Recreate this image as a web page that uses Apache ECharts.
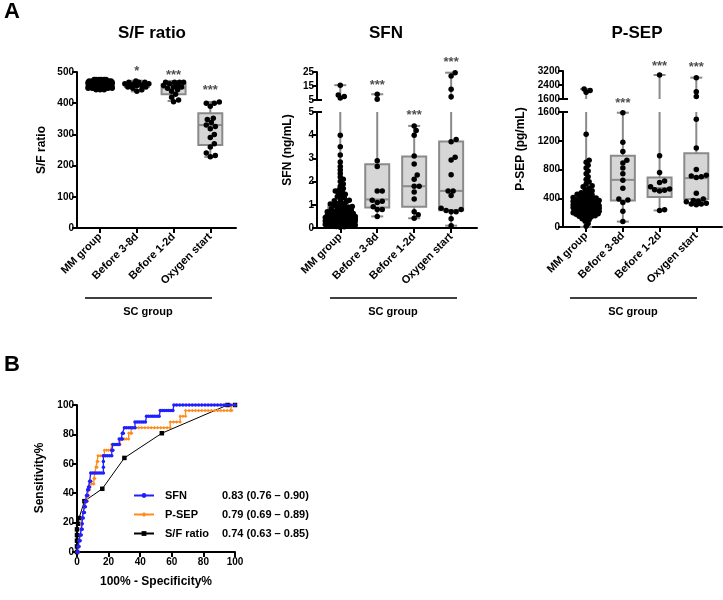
<!DOCTYPE html>
<html><head><meta charset="utf-8">
<script src="https://cdn.jsdelivr.net/npm/echarts@6/dist/echarts.min.js"></script>
<style>html,body{margin:0;padding:0;background:#fff}#c{width:723px;height:600px}</style>
</head><body><div id="c"></div>
<script>
// ---------------- DATA ----------------
const categories = ['MM group', 'Before 3-8d', 'Before 1-2d', 'Oxygen start'];

// S/F ratio: box stats [min, q1, median, q3, max]
const sfBoxes = [[440, 455, 462, 468, 478], [438, 452, 458, 465, 472], [407, 429, 448, 461, 471], [228, 266, 330, 368, 404]];
const sfMMLevels = [443, 448, 452, 457, 462, 467, 471, 476];
const sfMMCounts = [3, 8, 12, 16, 18, 14, 10, 6];
const sfB38 = [438, 443, 448, 452, 452, 457, 457, 457, 462, 462, 462, 467, 467, 467, 471];
const sfB12 = [405, 410, 419, 429, 438, 443, 448, 452, 452, 457, 457, 462, 467, 467, 467, 467];
const sfOxy = [228, 232, 240, 260, 270, 290, 300, 318, 325, 330, 338, 348, 352, 390, 400, 400, 404];
const sfStarText = ['', '*', '***', '***'];
const sfStarY = [null, 503, 490, 442];

// SFN (ng/mL)
const sfnBoxes = [[0.03, 0.28, 0.45, 0.92, 15.6], [0.5, 0.88, 1.23, 2.75, 9.1], [0.42, 0.92, 1.8, 3.08, 4.4], [0.1, 0.77, 1.6, 3.73, 24.5]];
const sfnMM = [0.03, 0.05, 0.06, 0.08, 0.1, 0.1, 0.12, 0.13, 0.15, 0.15, 0.17, 0.18, 0.2, 0.2, 0.2, 0.22, 0.23, 0.25, 0.25, 0.25,
  0.27, 0.28, 0.3, 0.3, 0.3, 0.3, 0.32, 0.33, 0.35, 0.35, 0.35, 0.35, 0.37, 0.38, 0.4, 0.4, 0.4, 0.4, 0.42, 0.43,
  0.45, 0.45, 0.45, 0.47, 0.48, 0.5, 0.5, 0.5, 0.52, 0.55, 0.55, 0.57, 0.6, 0.6, 0.62, 0.65, 0.67, 0.7, 0.7, 0.72,
  0.75, 0.78, 0.8, 0.82, 0.85, 0.88, 0.9, 0.93, 0.95, 0.98, 1.0, 1.03, 1.06, 1.1, 1.13, 1.17, 1.2, 1.25, 1.3, 1.35,
  1.4, 1.45, 1.5, 1.55, 1.6, 1.65, 1.7, 1.8, 1.9, 2.0, 2.1, 2.2, 2.35, 2.5, 2.65, 2.85, 3.15, 3.5, 4.0,
  6.5, 7.5, 8.5, 15.6];
const sfnB38 = [0.5, 0.8, 0.8, 0.92, 1.1, 1.15, 1.2, 1.6, 1.6, 2.65, 2.9, 5.6, 9.1];
const sfnB12 = [0.42, 0.57, 0.7, 1.25, 1.55, 1.8, 1.8, 2.1, 2.28, 2.76, 3.1, 4.0, 4.2, 4.4];
const sfnOxy = [0.1, 0.4, 0.7, 0.7, 0.75, 0.8, 0.85, 1.4, 1.6, 1.6, 2.3, 2.93, 3.05, 3.72, 3.82, 7.4, 12.6, 22.1, 24.5];
const sfnStarText = ['', '***', '***', '***'];
const sfnStarY = [null, 15.7, 4.87, 32.1];
const sfnStarSeg = [0, 1, 0, 1];

// P-SEP (pg/mL)
const psepBoxes = [[0, 190, 280, 388, 2170], [75, 369, 656, 990, 1590], [230, 416, 541, 688, 2970], [310, 388, 680, 1026, 2820]];
const psepMM = [10, 50, 80, 100, 115, 128, 140, 150, 158, 165, 172, 178, 185, 190, 195, 200, 204, 208, 212, 216,
  220, 224, 228, 232, 236, 240, 244, 248, 252, 256, 260, 263, 266, 270, 273, 276, 280, 283, 286, 290,
  293, 296, 300, 303, 306, 310, 313, 316, 320, 324, 328, 332, 336, 340, 345, 350, 355, 360, 365, 370,
  376, 382, 388, 395, 402, 410, 418, 426, 435, 445, 455, 465, 475, 490, 505, 520, 540, 560, 575, 600,
  630, 660, 700, 740, 780, 820, 860, 900, 930, 1290, 1990, 2080, 2170];
const psepB38 = [75, 220, 340, 375, 390, 540, 650, 740, 820, 890, 930, 1050, 1180, 1590];
const psepB12 = [230, 240, 500, 510, 520, 530, 560, 620, 640, 760, 990, 2970];
const psepOxy = [310, 320, 320, 330, 350, 360, 370, 390, 470, 690, 700, 710, 720, 800, 1100, 1500, 1740, 2020, 2820];
const psepStarText = ['', '***', '***', '***'];
const psepStarY = [null, 1720, 3464, 3408];
const psepStarSeg = [0, 0, 1, 1];

// ROC curves [100-specificity, sensitivity]
const rocSFN = [[0,0],[0.7,0],[0.7,3.8],[1.3,3.8],[1.3,7.7],[2,7.7],[2,11.5],[2.7,11.5],[2.7,15.4],[3.3,15.4],[3.3,19.2],[3.3,23.1],[4,23.1],[4,26.9],[4.7,26.9],[4.7,30.8],[5.3,30.8],[5.3,34.6],[6,34.6],[6,38.5],[6.7,38.5],[6.7,42.3],[7.3,42.3],[7.3,44.2],[8,44.2],[8,48.1],[8.7,48.1],[8.7,53.8],[10,53.8],[11.3,53.8],[12.7,53.8],[14,53.8],[15.3,53.8],[16.7,53.8],[16.7,57.7],[16.7,61.5],[16.7,65.4],[18,65.4],[19.3,65.4],[20.7,65.4],[22,65.4],[22,69.2],[22.7,69.2],[22.7,73.1],[24,73.1],[25.3,73.1],[26.7,73.1],[26.7,76.9],[28,76.9],[28.7,76.9],[28.7,80.8],[29.3,80.8],[30,84.6],[31.3,84.6],[32.7,84.6],[34,84.6],[35.3,84.6],[36.7,84.6],[36.7,88.5],[38,88.5],[39.3,88.5],[40.7,88.5],[42,88.5],[43.3,88.5],[44,92.3],[45.3,92.3],[46.7,92.3],[48,92.3],[49.3,92.3],[50.7,92.3],[52,92.3],[52.7,96.2],[54,96.2],[55.3,96.2],[56.7,96.2],[58,96.2],[59.3,96.2],[60.7,96.2],[61.3,100],[63,100],[65,100],[67,100],[69,100],[71,100],[73,100],[75,100],[77,100],[79,100],[81,100],[83,100],[85,100],[87,100],[89,100],[91,100],[93,100],[95,100],[97,100],[100,100]];
const rocPSEP = [[0,0],[0.7,0],[0.7,3.8],[1.3,3.8],[1.3,7.7],[2,7.7],[2,11.5],[2.7,15.4],[2.7,19.2],[3.3,19.2],[3.3,23.1],[4,26.9],[4.7,30.8],[5.3,34.6],[6,34.6],[6.7,34.6],[6.7,38.5],[7.3,38.5],[7.3,42.3],[8,42.3],[8,46.2],[9.3,46.2],[10.7,46.2],[10.7,50],[11.3,50],[11.3,53.8],[12,53.8],[12,57.7],[12.7,57.7],[12.7,61.5],[13.3,61.5],[13.3,65.4],[14.7,65.4],[16,65.4],[17.3,65.4],[17.3,69.2],[18.7,69.2],[20,69.2],[21.3,69.2],[22,69.2],[22,73.1],[23.3,73.1],[24.7,73.1],[26,73.1],[27.3,73.1],[27.3,76.9],[28.7,76.9],[30,76.9],[31.3,76.9],[32.7,76.9],[32.7,80.8],[34,80.8],[34.7,80.8],[34.7,84.6],[37,84.6],[39,84.6],[41,84.6],[43,84.6],[45,84.6],[47,84.6],[49,84.6],[51,84.6],[53,84.6],[55,84.6],[57,84.6],[59,84.6],[59,88.5],[61,88.5],[63,88.5],[65.3,88.5],[65.3,92.3],[67,92.3],[68.7,92.3],[68.7,96.2],[71,96.2],[73,96.2],[75,96.2],[77,96.2],[79,96.2],[81,96.2],[83,96.2],[85,96.2],[87,96.2],[89,96.2],[91,96.2],[93,96.2],[95,96.2],[97,96.2],[98,96.2],[98,100],[100,100]];
const rocSF = [[0,0],[0,3.8],[0,7.7],[0,11.5],[0,15.4],[0.7,19.2],[1.3,23.1],[4.7,34.6],[16,43],[30,64],[53.7,80.8],[95.3,100],[100,100]];
const rocNames = ['SFN', 'P-SEP', 'S/F ratio'];
const rocAUC = ['0.83 (0.76 – 0.90)', '0.79 (0.69 – 0.89)', '0.74 (0.63 – 0.85)'];

// ---------------- CHART ----------------
const F = 'Arial, "Liberation Sans", Helvetica, sans-serif';
const chart = echarts.init(document.getElementById('c'), null, {renderer: 'canvas'});

const grids = [
  {left: 77, top: 72, width: 159, height: 156},
  {left: 317, top: 72, width: 160, height: 28},
  {left: 317, top: 112, width: 160, height: 116},
  {left: 563, top: 71, width: 159, height: 28},
  {left: 563, top: 112, width: 159, height: 115},
  {left: 77, top: 405, width: 158, height: 147}
];

function catAxis(g, show) {
  return {type: 'value', gridIndex: g, min: -0.63, max: 3.7, show: show,
    axisLine: {show: true, onZero: false, lineStyle: {color: '#000', width: 2}},
    axisTick: {show: true, customValues: [0, 1, 2, 3], length: 5, lineStyle: {color: '#000', width: 2}},
    axisLabel: {show: true, customValues: [0, 1, 2, 3], rotate: 45, margin: 7, color: '#000', fontFamily: F,
      fontWeight: 'bold', fontSize: 11, formatter: v => categories[Math.round(v)]},
    splitLine: {show: false}};
}
function valAxis(g, min, max, interval) {
  return {type: 'value', gridIndex: g, min: min, max: max, interval: interval,
    axisLine: {show: true, onZero: false, lineStyle: {color: '#000', width: 2}},
    axisTick: {show: true, length: 5, lineStyle: {color: '#000', width: 2}},
    axisLabel: {color: '#000', fontFamily: F, fontWeight: 'bold', fontSize: 10, margin: 3, formatter: v => String(v)},
    splitLine: {show: false}};
}

function boxSeries(g, boxes, lo, hi) {
  return {type: 'custom', xAxisIndex: g, yAxisIndex: g, z: 2, silent: true,
    data: boxes.map((b, i) => [i].concat(b)),
    renderItem: function (params, api) {
      const x = api.value(0), mn = api.value(1), q1 = api.value(2), md = api.value(3), q3 = api.value(4), mx = api.value(5);
      const cl = v => Math.max(lo, Math.min(hi, v));
      const P = v => api.coord([x, cl(v)]);
      const hb = 12, hc = 6;
      const st = {stroke: '#8a8a8a', lineWidth: 2, fill: null};
      const ch = [];
      if (cl(mx) > cl(mn)) {
        const a = P(mn), b = P(mx);
        ch.push({type: 'line', shape: {x1: a[0], y1: a[1], x2: b[0], y2: b[1]}, style: st});
      }
      [mn, mx].forEach(v => {
        if (v >= lo && v <= hi) { const p = P(v); ch.push({type: 'line', shape: {x1: p[0] - hc, y1: p[1], x2: p[0] + hc, y2: p[1]}, style: st}); }
      });
      if (cl(q3) > cl(q1)) {
        const a = P(q1), b = P(q3);
        ch.push({type: 'rect', shape: {x: a[0] - hb, y: b[1], width: 2 * hb, height: a[1] - b[1]}, style: {fill: '#d6d6d6', stroke: '#8a8a8a', lineWidth: 2}});
      }
      if (md >= lo && md <= hi) { const p = P(md); ch.push({type: 'line', shape: {x1: p[0] - hb, y1: p[1], x2: p[0] + hb, y2: p[1]}, style: st}); }
      return {type: 'group', children: ch};
    }};
}

function starSeries(g, items) {
  return {type: 'scatter', xAxisIndex: g, yAxisIndex: g, symbolSize: 1, itemStyle: {color: 'rgba(0,0,0,0)'},
    clip: false, silent: true, z: 6,
    data: items.map(it => ({value: [it.x, it.y], label: {show: true, formatter: it.t}})),
    label: {show: true, position: 'inside', color: '#222', fontFamily: F, fontWeight: 'bold', fontSize: 13}};
}
function stars(texts, ys, segs, gLow, gHigh) {
  const lowItems = [], highItems = [];
  texts.forEach((t, i) => {
    if (!t) return;
    const it = {x: i, y: ys[i], t: t};
    if (segs && segs[i] === 1) highItems.push(it); else lowItems.push(it);
  });
  const out = [starSeries(gLow, lowItems)];
  if (gHigh !== undefined && highItems.length) out.push(starSeries(gHigh, highItems));
  return out;
}

const sfMM = [];
sfMMLevels.forEach((v, i) => { for (let k = 0; k < sfMMCounts[i]; k++) sfMM.push(v); });

const baseSeries = [
  boxSeries(0, sfBoxes, 0, 500),
  boxSeries(1, sfnBoxes, 5, 25),
  boxSeries(2, sfnBoxes, 0, 5),
  boxSeries(3, psepBoxes, 1600, 3200),
  boxSeries(4, psepBoxes, 0, 1600)
].concat(
  stars(sfStarText, sfStarY, null, 0),
  stars(sfnStarText, sfnStarY, sfnStarSeg, 2, 1),
  stars(psepStarText, psepStarY, psepStarSeg, 4, 3)
);

const rocColors = ['#1f1fff', '#ff8c1a', '#000000'];
const rocSymbols = ['circle', 'diamond', 'rect'];
[rocSFN, rocPSEP, rocSF].forEach((d, i) => {
  baseSeries.push({type: 'line', name: rocNames[i], xAxisIndex: 5, yAxisIndex: 5, data: d, clip: false,
    symbol: rocSymbols[i], symbolSize: i === 2 ? 4.5 : 3.5, showSymbol: true, z: 10 - i,
    lineStyle: {color: rocColors[i], width: i === 2 ? 1 : 1.3}, itemStyle: {color: rocColors[i], opacity: 1}});
});
const aucMap = {};
rocNames.forEach((n, i) => aucMap[n] = rocAUC[i]);

const T = (txt, x, y, size, rot) => ({type: 'text', x: x, y: y, rotation: rot || 0, silent: true,
  style: {text: txt, font: 'bold ' + size + 'px ' + F, fill: '#000', textAlign: 'center', textVerticalAlign: 'middle', align: 'center', verticalAlign: 'middle'}});
const L = (x1, y1, x2, y2, w) => ({type: 'line', silent: true, shape: {x1: x1, y1: y1, x2: x2, y2: y2}, style: {stroke: '#000', lineWidth: w || 1.5}});

const graphics = [
  {type: 'text', x: 4, y: 1, silent: true, style: {text: 'A', font: 'bold 22px ' + F, fill: '#000'}},
  {type: 'text', x: 4, y: 354, silent: true, style: {text: 'B', font: 'bold 22px ' + F, fill: '#000'}},
  T('S/F ratio', 152, 33, 17), T('SFN', 386, 33, 17), T('P-SEP', 637, 33, 17),
  T('S/F ratio', 42, 150, 12, Math.PI / 2), T('SFN (ng/mL)', 288, 150, 12, Math.PI / 2), T('P-SEP (pg/mL)', 521, 149, 12, Math.PI / 2),
  L(85, 298, 212, 298), L(330, 298, 457, 298), L(570, 298, 697, 298),
  T('SC group', 148, 312, 11), T('SC group', 393, 312, 11), T('SC group', 633, 312, 11),
  L(317, 100, 322, 100, 2), L(317, 112, 322, 112, 2), L(563, 99, 568, 99, 2), L(563, 112, 568, 112, 2),
  T('Sensitivity%', 40, 478, 12, Math.PI / 2), T('100% - Specificity%', 156, 582, 12)
];

const option = {
  animation: false,
  backgroundColor: '#fff',
  textStyle: {fontFamily: F},
  grid: grids,
  xAxis: [catAxis(0, true), catAxis(1, false), catAxis(2, true), catAxis(3, false), catAxis(4, true),
    Object.assign(valAxis(5, 0, 100, 20), {axisLabel: {color: '#000', fontFamily: F, fontWeight: 'bold', fontSize: 10, margin: 5}})],
  yAxis: [valAxis(0, 0, 500, 100), valAxis(1, 5, 25, 10), valAxis(2, 0, 5, 1), valAxis(3, 1600, 3200, 800), valAxis(4, 0, 1600, 400), valAxis(5, 0, 100, 20)],
  legend: {left: 128, top: 485, orient: 'vertical', itemWidth: 20, itemHeight: 6, itemGap: 8, data: rocNames,
    formatter: n => '{n|' + n + '}{v|' + aucMap[n] + '}',
    textStyle: {color: '#000', fontFamily: F, fontWeight: 'bold', fontSize: 11,
      rich: {n: {width: 57, fontWeight: 'bold', fontSize: 11, fontFamily: F, padding: [0, 0, 0, 6]}, v: {fontWeight: 'bold', fontSize: 11, fontFamily: F}}}},
  graphic: graphics,
  series: baseSeries
};
chart.setOption(option);

// ------- beeswarm layout of the dots (x offsets computed from pixel positions) -------
function swarm(ys, maxHalf, d) {
  const off = new Array(ys.length), placed = [];
  ys.forEach((y, i) => {
    let chosen = null, best = -1, bestC = 0;
    for (let k = 0; k <= 2 * maxHalf; k++) {
      const c = (k % 2 === 1 ? 1 : -1) * Math.ceil(k / 2);
      let md = Infinity;
      for (const p of placed) {
        const dy = p[1] - y;
        if (Math.abs(dy) < d) { const dd = Math.hypot(p[0] - c, dy); if (dd < md) md = dd; }
      }
      if (md >= d) { chosen = c; break; }
      if (md > best) { best = md; bestC = c; }
    }
    if (chosen === null) chosen = bestC;
    off[i] = chosen; placed.push([chosen, y]);
  });
  return off;
}
const panels = [
  {groups: [sfMM, sfB38, sfB12, sfOxy], segs: [{g: 0, lo: 0, hi: 500}], half: [12, 12, 12, 12], d: [4, 4.8, 4.8, 4.8]},
  {groups: [sfnMM, sfnB38, sfnB12, sfnOxy], segs: [{g: 2, lo: 0, hi: 5}, {g: 1, lo: 5.0001, hi: 30}], half: [15, 12, 12, 12], d: [3.4, 4.8, 4.8, 4.8]},
  {groups: [psepMM, psepB38, psepB12, psepOxy], segs: [{g: 4, lo: 0, hi: 1600}, {g: 3, lo: 1600.01, hi: 3300}], half: [13, 12, 12, 12], d: [3.4, 4.8, 4.8, 4.8]}
];
const dots = {};
panels.forEach(p => {
  p.groups.forEach((vals, gi) => {
    const pts = vals.map(v => {
      const s = p.segs.find(r => v >= r.lo && v <= r.hi) || p.segs[0];
      const pix = chart.convertToPixel({gridIndex: s.g}, [gi, v]);
      return {v: v, g: s.g, py: pix[1]};
    });
    const offs = swarm(pts.map(q => q.py), p.half[gi], p.d[gi]);
    pts.forEach((q, i) => {
      const unit = chart.convertToPixel({gridIndex: q.g}, [1, q.v])[0] - chart.convertToPixel({gridIndex: q.g}, [0, q.v])[0];
      (dots[q.g] = dots[q.g] || []).push([gi + offs[i] / unit, q.v]);
    });
  });
});
const dotSeries = Object.keys(dots).map(g => ({type: 'scatter', xAxisIndex: +g, yAxisIndex: +g, data: dots[g],
  symbol: 'circle', symbolSize: 5.5, clip: false, silent: true, z: 4, itemStyle: {color: '#000', opacity: 1}}));
chart.setOption({series: baseSeries.concat(dotSeries)});
</script>
</body></html>
